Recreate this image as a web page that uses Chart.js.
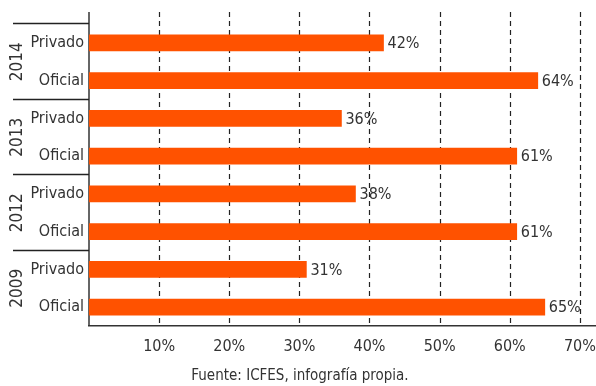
<!DOCTYPE html>
<html>
<head>
<meta charset="utf-8">
<script src="https://cdn.jsdelivr.net/npm/chart.js@4.4.0/dist/chart.umd.min.js"></script>
<style>
  html, body { margin: 0; padding: 0; background: #fff; }
  #wrap { width: 596px; height: 386px; position: relative; }
</style>
</head>
<body>
<div id="wrap"><canvas id="chart"></canvas></div>
<script>
const categories = ['Privado', 'Oficial', 'Privado', 'Oficial', 'Privado', 'Oficial', 'Privado', 'Oficial'];
const years = ['2014', '2013', '2012', '2009'];
const values = [42, 64, 36, 61, 38, 61, 31, 65];
const tickValues = [10, 20, 30, 40, 50, 60, 70];
const footerText = 'Fuente: ICFES, infografía propia.';

const FONT = "'Liberation Sans Narrow', 'DejaVu Sans Condensed', 'Roboto', sans-serif";
const TEXT = '#333333';
const BAR = '#FF5200';

// dashed gridlines + left axis, extended a bit above the plot
const gridPlugin = {
  id: 'gridPlugin',
  beforeDatasetsDraw(chart) {
    const { ctx, chartArea, scales } = chart;
    const top = chartArea.top - 12;
    ctx.save();
    ctx.strokeStyle = '#222';
    ctx.lineWidth = 1.2;
    ctx.setLineDash([5, 4]);
    tickValues.forEach(v => {
      const x = Math.round(scales.x.getPixelForValue(v)) + 0.5;
      ctx.beginPath();
      ctx.moveTo(x, top);
      ctx.lineTo(x, chartArea.bottom);
      ctx.stroke();
    });
    ctx.setLineDash([]);
    ctx.strokeStyle = '#333';
    ctx.lineWidth = 1.5;
    ctx.beginPath();
    ctx.moveTo(chartArea.left, top);
    ctx.lineTo(chartArea.left, chartArea.bottom);
    ctx.stroke();
    ctx.restore();
  }
};

// value labels, year labels, group dividers, footer
const labelPlugin = {
  id: 'labelPlugin',
  afterDatasetsDraw(chart) {
    const { ctx, chartArea, scales } = chart;
    const meta = chart.getDatasetMeta(0);
    ctx.save();
    ctx.fillStyle = TEXT;
    ctx.font = '16px ' + FONT;
    ctx.textBaseline = 'middle';
    ctx.textAlign = 'left';
    meta.data.forEach((bar, i) => {
      ctx.fillText(values[i] + '%', bar.x + 4, bar.y + 1);
    });

    ctx.strokeStyle = '#222';
    ctx.lineWidth = 1.5;
    years.forEach((yr, g) => {
      const yTop = g === 0 ? chartArea.top
        : (scales.y.getPixelForValue(2 * g - 1) + scales.y.getPixelForValue(2 * g)) / 2;
      ctx.beginPath();
      ctx.moveTo(13, Math.round(yTop) - 0.5);
      ctx.lineTo(chartArea.left, Math.round(yTop) - 0.5);
      ctx.stroke();
      const yMid = (scales.y.getPixelForValue(2 * g) + scales.y.getPixelForValue(2 * g + 1)) / 2;
      ctx.save();
      ctx.translate(18, yMid);
      ctx.rotate(-Math.PI / 2);
      ctx.textAlign = 'center';
      ctx.font = '17px ' + FONT;
      ctx.fillText(yr, 0, 0);
      ctx.restore();
    });

    ctx.font = '15px ' + FONT;
    ctx.textAlign = 'center';
    ctx.fillText(footerText, 300, 376);
    ctx.restore();
  }
};

new Chart(document.getElementById('chart'), {
  type: 'bar',
  data: {
    labels: categories,
    datasets: [{
      data: values,
      backgroundColor: BAR,
      borderWidth: 0,
      barThickness: 16
    }]
  },
  options: {
    indexAxis: 'y',
    responsive: true,
    maintainAspectRatio: false,
    animation: false,
    layout: { padding: { top: 24, right: 0, left: 0, bottom: 0 } },
    plugins: {
      legend: { display: false },
      tooltip: { enabled: false }
    },
    scales: {
      x: {
        min: 0,
        max: 72.3,
        afterBuildTicks(scale) {
          scale.ticks = tickValues.map(v => ({ value: v }));
        },
        afterFit(scale) {
          scale.height = 60;
          scale.paddingLeft = 0;
          scale.paddingRight = 0;
        },
        grid: { display: false, drawTicks: false },
        border: { display: true, color: '#333', width: 1.5 },
        ticks: {
          padding: 11,
          color: TEXT,
          font: { family: FONT, size: 16 },
          maxRotation: 0,
          callback: v => v + '%'
        }
      },
      y: {
        afterFit(scale) { scale.width = 89; },
        grid: { display: false, drawTicks: false },
        border: { display: false },
        ticks: {
          padding: 5,
          color: TEXT,
          font: { family: FONT, size: 16 }
        }
      }
    }
  },
  plugins: [gridPlugin, labelPlugin]
});
</script>
</body>
</html>
